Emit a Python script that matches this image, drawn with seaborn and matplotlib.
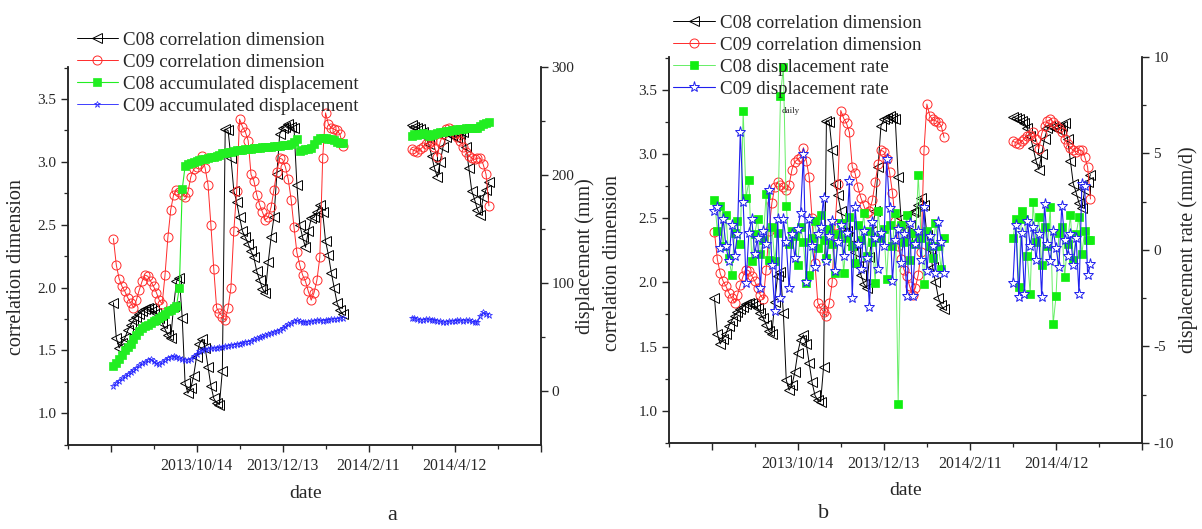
import numpy as np
import pandas as pd
import matplotlib
matplotlib.use('Agg')
import matplotlib.pyplot as plt
from matplotlib.ticker import MultipleLocator
import seaborn as sns

# two monitoring periods, one reading every 2 days
seg1_start = '2013-08-17'
seg2_start = '2014-03-13'

# C08 / C09 correlation dimension
c08_cd_1 = [1.88, 1.60, 1.52, 1.56, 1.60, 1.66, 1.70, 1.74, 1.77, 1.79,
            1.81, 1.83, 1.84, 1.84, 1.82, 1.80, 1.76, 1.72, 1.67, 1.62,
            1.60, 1.85, 2.05, 2.08, 1.76, 1.24, 1.16, 1.20, 1.30, 1.45,
            1.55, 1.59, 1.52, 1.37, 1.22, 1.12, 1.08, 1.07, 1.34, 3.26,
            3.25, 3.03, 2.77, 2.68, 2.56, 2.45, 2.40, 2.35, 2.29, 2.24,
            2.13, 2.06, 1.99, 1.96, 2.20, 2.40, 2.56, 2.90, 3.22, 3.27,
            3.28, 3.30, 3.28, 3.27, 2.82, 2.50, 2.40, 2.32, 2.45, 2.55,
            2.56, 2.60, 2.66, 2.60, 2.37, 2.26, 2.12, 2.00, 1.88, 1.82,
            1.79]
c08_cd_2 = [3.29, 3.28, 3.27, 3.26, 3.24, 3.20, 3.14, 3.05, 2.95, 2.88,
            3.00, 3.12, 3.20, 3.22, 3.21, 3.20, 3.19, 3.22, 3.24, 3.12,
            2.95, 2.77, 2.70, 2.62, 2.58, 2.72, 2.78, 2.84]
c09_cd_1 = [2.39, 2.18, 2.07, 2.01, 1.97, 1.92, 1.88, 1.84, 1.90, 1.98,
            2.05, 2.10, 2.09, 2.05, 2.01, 1.96, 1.90, 1.87, 2.10, 2.40,
            2.62, 2.74, 2.78, 2.76, 2.74, 2.72, 2.76, 2.88, 2.94, 2.96,
            2.98, 3.05, 2.95, 2.82, 2.50, 2.15, 1.84, 1.80, 1.77, 1.74,
            1.84, 2.00, 2.45, 2.77, 3.34, 3.28, 3.24, 3.17, 2.90, 2.85,
            2.74, 2.66, 2.60, 2.54, 2.56, 2.64, 2.78, 2.92, 3.03, 3.02,
            2.96, 2.86, 2.70, 2.48, 2.28, 2.18, 2.10, 2.05, 1.97, 1.90,
            1.96, 2.06, 2.24, 3.03, 3.39, 3.30, 3.27, 3.26, 3.25, 3.22,
            3.13]
c09_cd_2 = [3.10, 3.09, 3.08, 3.10, 3.12, 3.14, 3.15, 3.17, 3.12, 3.04,
            3.16, 3.22, 3.26, 3.27, 3.25, 3.23, 3.20, 3.17, 3.12, 3.08,
            3.05, 3.03, 3.02, 3.03, 3.03, 2.98, 2.90, 2.65]

# accumulated displacement (mm)
c08_acc_1 = [23, 26, 30, 34, 38, 41, 44, 48, 52, 56,
             59, 60, 61, 63, 65, 66, 68, 70, 72, 74,
             75, 77, 79, 96, 187, 208, 210, 211, 212, 213,
             214, 215, 215, 216, 217, 217, 218, 219, 220, 220,
             221, 221, 222, 223, 223, 223, 224, 224, 224, 225,
             225, 225, 226, 226, 226, 226, 227, 227, 227, 228,
             228, 228, 229, 231, 233, 222, 223, 224, 224, 225,
             229, 232, 234, 234, 234, 233, 233, 232, 231, 230,
             230]
c08_acc_2 = [236, 238, 237, 238, 239, 238, 236, 237, 238, 239,
             240, 240, 241, 241, 242, 242, 243, 243, 243, 244,
             244, 244, 244, 244, 245, 247, 248, 249]
c09_acc_1 = [5, 8, 10, 12, 14, 16, 18, 20, 22, 24,
             26, 27, 29, 30, 28, 26, 25, 27, 29, 31,
             32, 33, 32, 31, 30, 29, 29, 30, 33, 35,
             37, 38, 39, 39, 40, 40, 40, 41, 41, 42,
             42, 43, 43, 44, 44, 45, 46, 46, 47, 48,
             49, 50, 51, 52, 53, 54, 55, 56, 57, 59,
             60, 62, 63, 65, 66, 65, 64, 64, 64, 65,
             65, 66, 66, 65, 66, 66, 67, 67, 67, 68,
             68]
c09_acc_2 = [68, 68, 67, 66, 66, 67, 67, 66, 66, 65,
             65, 64, 64, 65, 65, 65, 66, 66, 65, 66,
             66, 65, 64, 64, 70, 73, 72, 71]

# displacement rate (mm/d)
c08_rate_1 = [2.6, 1.0, 2.3, 0.2, 1.8, -0.4, -1.3, 0.9, 1.5, 0.3,
              7.2, 2.7, 3.6, -0.6, 0.8, 1.6, -0.2, 0.5, 2.9, -0.5,
              1.2, -0.6, 0.9, 8.0, 9.5, 2.3, 0.3, 1.0, 0.7, -0.8,
              1.2, 0.4, -1.7, -1.3, 0.6, 1.5, 0.1, 1.8, 0.5, -0.4,
              1.1, 0.3, -1.2, 0.8, 1.4, -1.2, 0.6, 1.7, 0.2, -0.7,
              1.3, 0.5, 1.9, -0.3, 1.0, 0.4, -1.7, 2.0, 0.6, 1.1,
              -1.5, 1.3, 0.2, 1.9, -8.0, 1.3, 0.4, 1.8, -0.5, 0.9,
              0.3, 3.9, 0.6, -1.75, 1.0, 0.2, -0.4, 1.4, 0.2, -1.0,
              0.6]
c08_rate_2 = [0.6, 1.6, -1.9, 2.0, 1.6, -0.3, -2.3, 2.5, 0.4, 1.7,
              -0.8, 1.2, 0.2, 2.2, -3.85, -2.4, 0.9, 1.2, -1.4, 0.3,
              1.8, -0.5, 0.8, 1.7, -0.2, 1.0, 0.5, 0.5]
c09_rate_1 = [2.0, 2.2, 0.1, 1.6, 0.2, -0.6, 1.3, -0.3, 0.8, 6.1,
              2.5, -1.7, 0.9, 1.6, -0.2, 0.6, -2.0, 1.0, 0.3, 3.1,
              -0.8, -3.15, 1.6, -2.5, 1.6, 0.4, -2.0, 0.8, -0.4, 1.1,
              1.9, 4.95, -1.65, 1.6, 0.2, -0.9, 0.8, 1.2, 2.7, -0.6,
              0.7, 1.5, -1.1, 0.4, 1.3, -0.3, 0.9, 3.55, -2.5, 2.2,
              0.3, -1.0, 1.0, -0.4, -2.98, 1.46, 0.6, -1.0, 0.9, 0.2,
              4.7, 2.16, -1.6, 0.5, 1.1, -0.7, 0.8, -2.4, 1.4, -2.4,
              0.3, 1.0, -0.5, 2.2, -1.1, 0.7, 0.2, -1.2, 1.46, 0.4,
              -1.2]
c09_rate_2 = [-1.7, 1.3, -2.45, 0.9, -2.3, 1.5, 0.2, 1.2, -0.5, 0.8,
              -2.45, 2.4, 0.3, -0.6, 1.0, 0.1, -0.9, 2.3, 0.5, -0.3,
              0.8, -0.8, 0.6, -2.3, 3.4, 3.3, -1.3, -0.75]

date_ticks = ['2013-08-15', '2013-10-14', '2013-12-13', '2014-02-11', '2014-04-12', '2014-06-11']
date_labels = ['', '2013/10/14', '2013/12/13', '2014/2/11', '2014/4/12', '']
date_minor = ['2013-07-16', '2013-09-14', '2013-11-13', '2014-01-12', '2014-03-13', '2014-05-12']

t1 = pd.date_range(seg1_start, periods=len(c08_cd_1), freq='2D')
t2 = pd.date_range(seg2_start, periods=len(c08_cd_2), freq='2D')

sns.set_theme(style='ticks')
plt.rcParams['font.family'] = ['Liberation Serif', 'DejaVu Serif']
plt.rcParams['axes.unicode_minus'] = False
plt.rcParams['axes.linewidth'] = 1.1
plt.rcParams['xtick.direction'] = 'out'
plt.rcParams['ytick.direction'] = 'out'

BLACK = dict(color='black', marker='<', markersize=7, markerfacecolor='none',
             markeredgecolor='black', markeredgewidth=0.7, linewidth=0.7)
RED = dict(color='#ff2a2a', marker='o', markersize=6.5, markerfacecolor='none',
           markeredgecolor='#ff2a2a', markeredgewidth=0.7, linewidth=0.7)
GREEN_ACC = dict(color='#22ee22', marker='s', markersize=5.5, markerfacecolor='#22ee22',
                 markeredgecolor='#22ee22', markeredgewidth=0.5, linewidth=0.8)
BLUE_ACC = dict(color='#1f1fff', marker='*', markersize=4.5, markerfacecolor='none',
                markeredgecolor='#1f1fff', markeredgewidth=0.5, linewidth=0.6)
GREEN_RATE = dict(color='#66ee66', marker='s', markersize=5.5, markerfacecolor='#11ee11',
                  markeredgecolor='#11ee11', markeredgewidth=0.5, linewidth=0.7)
BLUE_RATE = dict(color='#2020ee', marker='*', markersize=8, markerfacecolor='white',
                 markeredgecolor='#2020ee', markeredgewidth=0.7, linewidth=0.8)


def draw(ax, y1, y2, label, style):
    sns.lineplot(x=t1, y=y1, ax=ax, label=label, legend=False, estimator=None, **style)
    sns.lineplot(x=t2, y=y2, ax=ax, label='_nolegend_', legend=False, estimator=None, **style)


def style_axes(ax, ax2, xstart, ylim, y2lim, y2major, y2minor):
    ax.set_xlim(pd.Timestamp(xstart), pd.Timestamp('2014-06-11'))
    ax.set_xticks(pd.to_datetime(date_ticks))
    ax.set_xticklabels(date_labels)
    ax.set_xticks(pd.to_datetime(date_minor), minor=True)
    ax.set_ylim(ylim)
    ax.yaxis.set_major_locator(MultipleLocator(0.5))
    ax.yaxis.set_minor_locator(MultipleLocator(0.25))
    ax2.set_ylim(y2lim)
    ax2.yaxis.set_major_locator(MultipleLocator(y2major))
    ax2.yaxis.set_minor_locator(MultipleLocator(y2minor))
    for a in (ax, ax2):
        a.spines['top'].set_visible(False)
        a.tick_params(which='major', length=5, width=1.0, labelsize=11, pad=3)
        a.tick_params(which='minor', length=3, width=0.9)
        a.grid(False)
    ax.tick_params(axis='x', labelsize=11.3, pad=4.5)


def add_legend(ax, ax2, anchor):
    h1, l1 = ax.get_legend_handles_labels()
    h2, l2 = ax2.get_legend_handles_labels()
    ax2.legend(h1 + h2, l1 + l2, loc='upper left', bbox_to_anchor=anchor,
               bbox_transform=fig.transFigure, frameon=False, fontsize=13.6,
               handlelength=2.2, handletextpad=0.26, labelspacing=0.25,
               borderpad=0, borderaxespad=0)


def set_labels(ax, ax2, rlabel, xpos, lpos, rpos):
    ax.set_xlabel('date', fontsize=14)
    ax.xaxis.label.set_va('center')
    ax.xaxis.set_label_coords(*xpos)
    ax.set_ylabel('correlation dimension', fontsize=14.5)
    ax.yaxis.label.set_va('center')
    ax.yaxis.set_label_coords(*lpos)
    ax2.set_ylabel(rlabel, fontsize=14.5)
    ax2.yaxis.label.set_va('center')
    ax2.yaxis.set_label_coords(*rpos)


fig = plt.figure(figsize=(12.02, 5.29), dpi=100)

# ---- panel a ----
ax = fig.add_axes([0.0562, 0.1588, 0.3935, 0.7146])
ax2 = ax.twinx()
draw(ax, c08_cd_1, c08_cd_2, 'C08 correlation dimension', BLACK)
draw(ax, c09_cd_1, c09_cd_2, 'C09 correlation dimension', RED)
draw(ax2, c08_acc_1, c08_acc_2, 'C08 accumulated displacement', GREEN_ACC)
draw(ax2, c09_acc_1, c09_acc_2, 'C09 accumulated displacement', BLUE_ACC)
style_axes(ax, ax2, '2013-07-19', (0.748, 3.755), (-49.6, 300), 100, 50)
set_labels(ax, ax2, 'displacement (mm)', (0.503, -0.127), (-0.108, 0.47), (1.095, 0.50))
add_legend(ax, ax2, (0.0638, 0.9405))
fig.text(392 / 1202, 1 - 515 / 529, 'a', fontsize=16, ha='center', va='center')

# ---- panel b ----
bx = fig.add_axes([0.5562, 0.1631, 0.394, 0.7291])
bx2 = bx.twinx()
draw(bx, c08_cd_1, c08_cd_2, 'C08 correlation dimension', BLACK)
draw(bx, c09_cd_1, c09_cd_2, 'C09 correlation dimension', RED)
draw(bx2, c08_rate_1, c08_rate_2, 'C08 displacement rate', GREEN_RATE)
draw(bx2, c09_rate_1, c09_rate_2, 'C09 displacement rate', BLUE_RATE)
style_axes(bx, bx2, '2013-07-16', (0.75, 3.757), (-10, 10), 5, 2.5)
set_labels(bx, bx2, 'displacement rate (mm/d)', (0.50, -0.125), (-0.119, 0.465), (1.098, 0.50))
add_legend(bx, bx2, (0.560, 0.9726))
bx2.text(pd.Timestamp('2013-10-09'), 7.2, 'daily', fontsize=6.5, ha='center', va='center')
fig.text(824 / 1202, 1 - 513 / 529, 'b', fontsize=16, ha='center', va='center')

fig.savefig('out.png', dpi=100)
